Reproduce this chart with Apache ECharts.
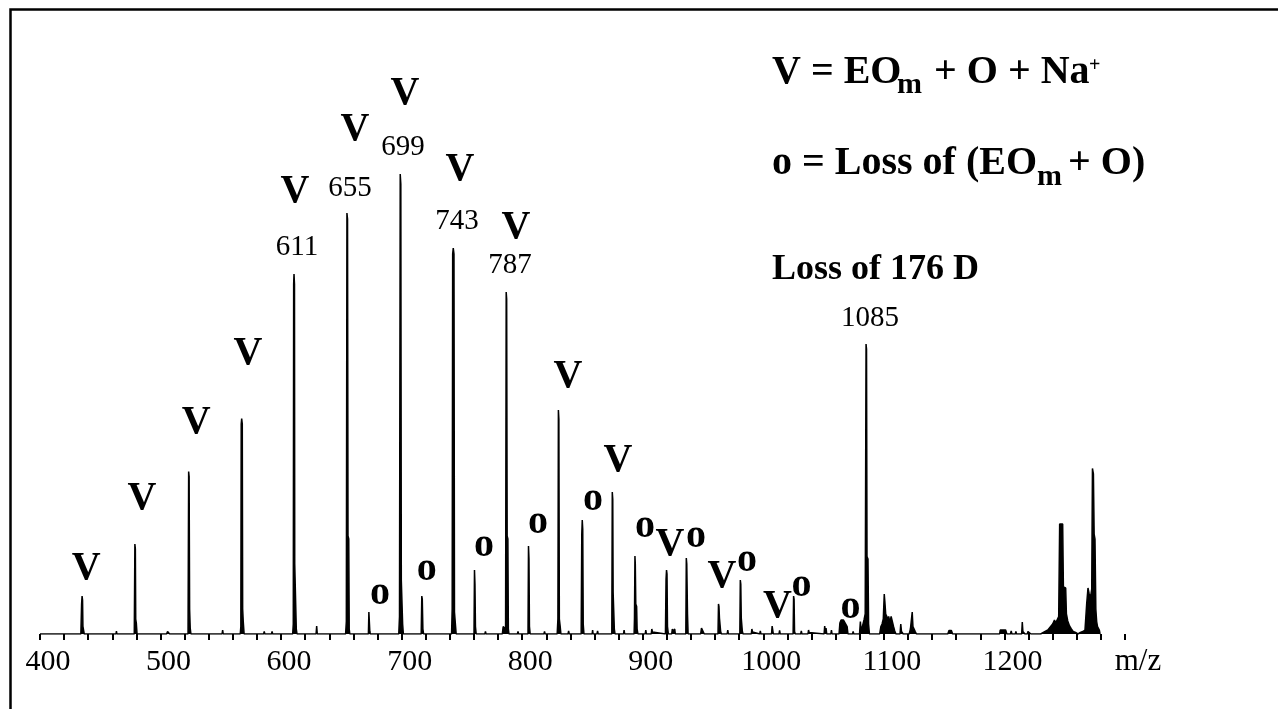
<!DOCTYPE html>
<html>
<head>
<meta charset="utf-8">
<script src="https://cdn.jsdelivr.net/npm/echarts@6/dist/echarts.min.js"></script>
<style>
html,body{margin:0;padding:0;background:#fff;}
#chart{width:1278px;height:709px;}
</style>
</head>
<body>
<div id="chart"></div>
<script>
// ---- DATA ----
// spectrum trace, [m/z, relative intensity]
const spectrum400to700 = [
  [400,0],[433.9,0],[434.5,6],[434.9,7.6],[435.3,6.8],[435.6,1.5],[436.2,1.2],[436.7,0],
  [463,0],[463.4,0.6],[463.8,0],
  [478.2,0],[478.7,18],[479.1,17],[479.4,3],[479.9,2.2],[480.5,0],
  [505,0],[505.8,0.5],[506.5,0.6],[507.5,0],
  [522.8,0],[523.3,32.5],[523.7,31.5],[524.1,5],[524.6,1.2],[525.2,0],
  [551,0],[551.5,0.8],[552,0],
  [566.1,0],[566.6,1.5],[566.9,42],[567.3,43.1],[567.8,42],[568.1,5],[568.6,2.5],[569.3,0],
  [585.5,0],[586,0.5],[586.5,0],[592,0],[592.5,0.5],[593,0],
  [609.6,0],[610.1,2],[610.4,70],[610.7,72],[611.1,70],[611.3,14],[612.2,13.7],[612.6,1],[613.2,0],
  [629,0],[629.5,1.6],[630,0],
  [641,0],[641.5,0.4],[642,0],
  [653.5,0],[654.1,2.5],[654.6,84.2],[655.1,83],[655.5,19.6],[656.1,19],[656.5,1],[657,0],
  [672.4,0],[672.8,4.4],[673.2,4.2],[673.6,0.5],[674,0],
  [681,0],[681.5,0.3],[682,0],
  [697.6,0],[698.2,3.5],[698.8,92],[699.3,90],[699.7,10.8],[700.3,10.5],[700.8,2],[701.4,0]
];
const spectrum700to1000 = [
  [716.2,0],[716.7,7.6],[717.1,7],[717.6,1],[718.2,0],
  [725,0],[725.5,0.4],[726,0],
  [741.4,0],[741.9,5],[742.3,76],[742.8,77.2],[743.4,76],[743.8,4.4],[744.5,4.4],[745.2,0],
  [760,0],[760.4,12.8],[760.8,10],[761.2,1.5],[761.8,0],
  [769,0],[769.5,0.5],[770,0],
  [783.5,0],[784.2,1.5],[785.2,1.8],[786.2,1],[786.7,68.4],[787.1,67],[787.5,19.6],[788.1,19],[788.5,1],[789,0],
  [796,0],[796.5,0.5],[797,0],
  [804.8,0],[805.2,17.6],[805.6,15],[806,1.5],[806.6,0],
  [813,0],[813.5,0.4],[814,0],[818,0],[818.5,0.5],[819,0],
  [829,0],[829.6,3],[830,44.8],[830.4,43],[830.8,3],[831.5,1.5],[832.1,0],
  [838,0],[838.5,0.6],[839,0],
  [848.9,0],[849.4,20],[849.8,22.8],[850.2,21],[850.6,2],[851.2,0],
  [858,0],[858.4,0.8],[858.8,0],[862,0],[862.5,0.6],[863,0],
  [874.3,0],[874.7,28.4],[875.1,27],[875.4,8.4],[876,8],[876.4,1],[877,0],
  [884,0],[884.5,0.8],[885,0],
  [892.8,0],[893.1,3],[893.5,15.6],[893.8,14],[894.2,6],[894.9,5.5],[895.3,1],[896,0],
  [902,0],[902.5,0.8],[903,0],[907,0],[907.5,1],[908,0.4],[909,0],
  [918.8,0],[919.3,11],[919.7,12.8],[920.1,12],[920.5,1.5],[921.2,0],
  [924,0],[924.5,1],[925,0.5],[926.5,1],[927,0],
  [935.7,0],[936.1,15.2],[936.5,14],[937.1,4],[937.6,0],
  [948,0],[948.7,1.2],[950,1.2],[951,0],
  [962.4,0],[962.8,6],[963.2,5.5],[963.6,3.2],[964.2,3],[964.6,0.5],[965.2,0],
  [970,0],[970.5,0.8],[971,0],
  [980.5,0],[980.9,10.8],[981.3,10],[981.7,3.2],[982.2,3],[982.6,0.5],[983.2,0],
  [990,0],[990.5,1],[991,0.4],[992,0],
  [997,0],[997.5,0.6],[998,0]
];
const spectrum1000to1280 = [
  [1006.8,0],[1007.3,1.6],[1007.8,1.4],[1008.3,0],
  [1013,0],[1013.5,0.7],[1014,0],
  [1024.7,0],[1025.1,7.6],[1025.5,7],[1025.9,0.5],[1026.5,0],
  [1031,0],[1031.5,0.6],[1032,0],
  [1037,0],[1037.5,0.8],[1038,0.3],[1039,0],
  [1050.4,0],[1050.9,1.6],[1051.4,0.5],[1052,1.2],[1052.6,0],
  [1056,0],[1056.5,0.8],[1057,0],
  [1062.8,0],[1063.5,2.2],[1064.5,2.8],[1066.5,2.8],[1068,2.5],[1069.5,1.5],[1070.2,0],
  [1074,0],[1074.5,0.5],[1075,0],
  [1079.8,0],[1080.5,2.5],[1081.2,0.5],
  [1082.5,0.5],[1083.5,2.8],[1084.5,4],[1085.2,58],[1085.6,57],[1086,15.5],[1086.8,15],[1087.3,2],[1088,0],
  [1093,0],[1093.5,0.4],[1094,0],
  [1096.5,0],[1097.5,1.5],[1098.5,2],[1099.5,3],[1100.3,8],[1100.8,6.5],[1101.5,4],[1102.5,3.5],[1103.2,2.5],
  [1104,3.5],[1105,2.2],[1106,3.5],[1107,2.5],[1108,1.5],[1109,0.6],[1110,0],
  [1113.4,0],[1114,2],[1114.6,0.5],[1115.5,0.3],[1116,0],
  [1121,0],[1122,1],[1122.8,1.4],[1123.5,4.4],[1124.1,1.5],[1125,1.2],[1126,0.5],[1127,0],
  [1134,0],[1134.5,0.4],[1135,0],
  [1144.5,0],[1145,0.4],[1145.5,0],
  [1153,0],[1154,0.7],[1155,0.6],[1156,0.7],[1157,0],
  [1196,0],[1196.5,0.8],[1201,0.8],[1202,0],
  [1205,0],[1205.6,0.6],[1206.2,0],
  [1209,0],[1209.5,0.5],[1210,0],
  [1214.3,0],[1214.8,2.4],[1215.3,0.5],[1216,0.3],[1217,0],
  [1219,0],[1219.5,0.5],[1220,0.3],[1221,0.4],[1222,0],
  [1225,0],[1225.5,0.4],[1226,0],
  [1230,0],[1233,0.4],[1236,0.8],[1238,1.4],[1240,2],[1241.5,2.8],[1242.5,2.2],[1243.5,2.6],[1245,3.5],
  [1245.8,22],[1248.3,22],[1248.9,9.4],[1250.8,9.2],[1251.4,4],[1252.5,2.6],[1254,1.6],[1255.5,1],[1257,0.5],[1259,0.3],
  [1261,0],[1263,0.3],[1265,0.5],[1266.8,0.8],[1268.2,6],[1269.3,9.2],[1270.3,8],[1271.3,7.2],[1272.4,9],
  [1273,33.1],[1273.8,32],[1274.4,20],[1275.1,19],[1275.8,5],[1276.5,2.5],[1277.2,1.5],[1278,1.8],[1278.7,0.8],[1279.3,0]
];

// annotated peaks
const vPeakMz = [434.9, 478.7, 523.3, 567.3, 610.7, 654.6, 698.8, 742.8, 786.7, 830.0, 874.7, 919.7, 962.8, 1007.3];
const oPeakMz = [672.8, 716.7, 760.4, 805.2, 849.8, 893.5, 936.1, 980.9, 1025.1, 1064.5];
const massPeakMz = [610.7, 654.6, 698.8, 742.8, 786.7, 1085.2];
const massPeakText = ['611', '655', '699', '743', '787', '1085'];

// x-axis tick labels and texts
const tickLabels = [400, 500, 600, 700, 800, 900, 1000, 1100, 1200];
const axisTitle = 'm/z';
const legendParts = {
  line1: ['V = EO', 'm', '+ O + Na', '+'],
  line2: ['o = Loss of (EO', 'm', '+ O)'],
  line3: 'Loss of 176 D'
};

// ---- LAYOUT (pixel offsets of labels from their peak tops) ----
const vOffsets = [[4,-27],[7,-45],[7.6,-49],[6.3,-64.5],[1,-82],[8,-83],[4.8,-80],[6.7,-78],[9.8,-64],[9.6,-33],[5.7,-31],[3.4,-25],[3.5,-27],[5.2,-19]];
const oOffsets = [[11,-18],[5,-26],[9.5,-24],[9.5,-23],[10.7,-20],[10,-29],[9.7,-21],[6.7,-19],[8,-10],[9.5,-12]];
const massOffsets = [[3,-27],[3,-25],[2.8,-27],[3.7,-27],[3.8,-27],[4,-26]];

const FONT = '"Liberation Serif", "Times New Roman", Times, serif';
const spectrum = spectrum400to700.concat(spectrum700to1000, spectrum1000to1280);

function peakHeight(mz) {
  let best = 0;
  spectrum.forEach(p => { if (Math.abs(p[0] - mz) <= 0.6 && p[1] > best) best = p[1]; });
  return best;
}
function labelSeries(mzList, texts, offsets, size, weight) {
  return {
    type: 'scatter', silent: true, symbolSize: 1, z: 5,
    itemStyle: { color: 'rgba(0,0,0,0)', opacity: 1 },
    data: mzList.map((m, i) => ({
      value: [m, peakHeight(m)],
      label: {
        show: true, position: 'inside', offset: offsets[i], opacity: 1,
        formatter: texts[i], fontFamily: FONT, fontSize: size, fontWeight: weight,
        color: '#000000', textBorderWidth: 0
      }
    }))
  };
}
function txt(text, x, y, size, weight) {
  return { type: 'text', x: x, y: y, silent: true, z: 10,
    style: { text: text, font: weight + ' ' + size + 'px ' + FONT, fill: '#000', align: 'left', verticalAlign: 'middle' } };
}

const chart = echarts.init(document.getElementById('chart'));
chart.setOption({
  animation: false,
  backgroundColor: '#fff',
  grid: { left: 40, right: 153, top: 134, bottom: 75, containLabel: false },
  xAxis: {
    type: 'value', min: 400, max: 1300, interval: 20,
    axisLine: { show: false },
    axisTick: { show: true, length: 6, lineStyle: { color: '#000', width: 2 } },
    splitLine: { show: false },
    axisLabel: {
      color: '#000', fontFamily: FONT, fontSize: 30, margin: 13, padding: [0, 0, 0, 16],
      showMinLabel: true, showMaxLabel: true,
      formatter: v => tickLabels.indexOf(v) >= 0 ? String(v) : ''
    }
  },
  yAxis: { type: 'value', min: 0, max: 100, show: false },
  series: [
    {
      type: 'line', data: spectrum, symbol: 'none', showSymbol: false, silent: true,
      sampling: null, z: 3,
      lineStyle: { color: '#000', width: 1.5 },
      areaStyle: { color: '#000', opacity: 1 }
    },
    labelSeries(vPeakMz, vPeakMz.map(() => 'V'), vOffsets, 40, 'bold'),
    labelSeries(oPeakMz, oPeakMz.map(() => 'o'), oOffsets, 40, 'bold'),
    labelSeries(massPeakMz, massPeakText, massOffsets, 29, 'normal')
  ],
  graphic: [
    { type: 'rect', silent: true, shape: { x: 10.5, y: 9.5, width: 1400, height: 800 },
      style: { fill: 'none', stroke: '#000', lineWidth: 2.5 } },
    { type: 'text', x: 1138, y: 662, silent: true,
      style: { text: axisTitle, font: '31px ' + FONT, fill: '#000', align: 'center', verticalAlign: 'middle' } },
    txt(legendParts.line1[0], 772, 73, 40, 'bold'),
    txt(legendParts.line1[1], 897, 85, 30, 'bold'),
    txt(legendParts.line1[2], 934, 73, 40, 'bold'),
    txt(legendParts.line1[3], 1089, 66, 20, 'bold'),
    txt(legendParts.line2[0], 772, 164, 40, 'bold'),
    txt(legendParts.line2[1], 1037, 177, 30, 'bold'),
    txt(legendParts.line2[2], 1068, 164, 40, 'bold'),
    txt(legendParts.line3, 772, 270, 36, 'bold')
  ]
});
</script>
</body>
</html>
